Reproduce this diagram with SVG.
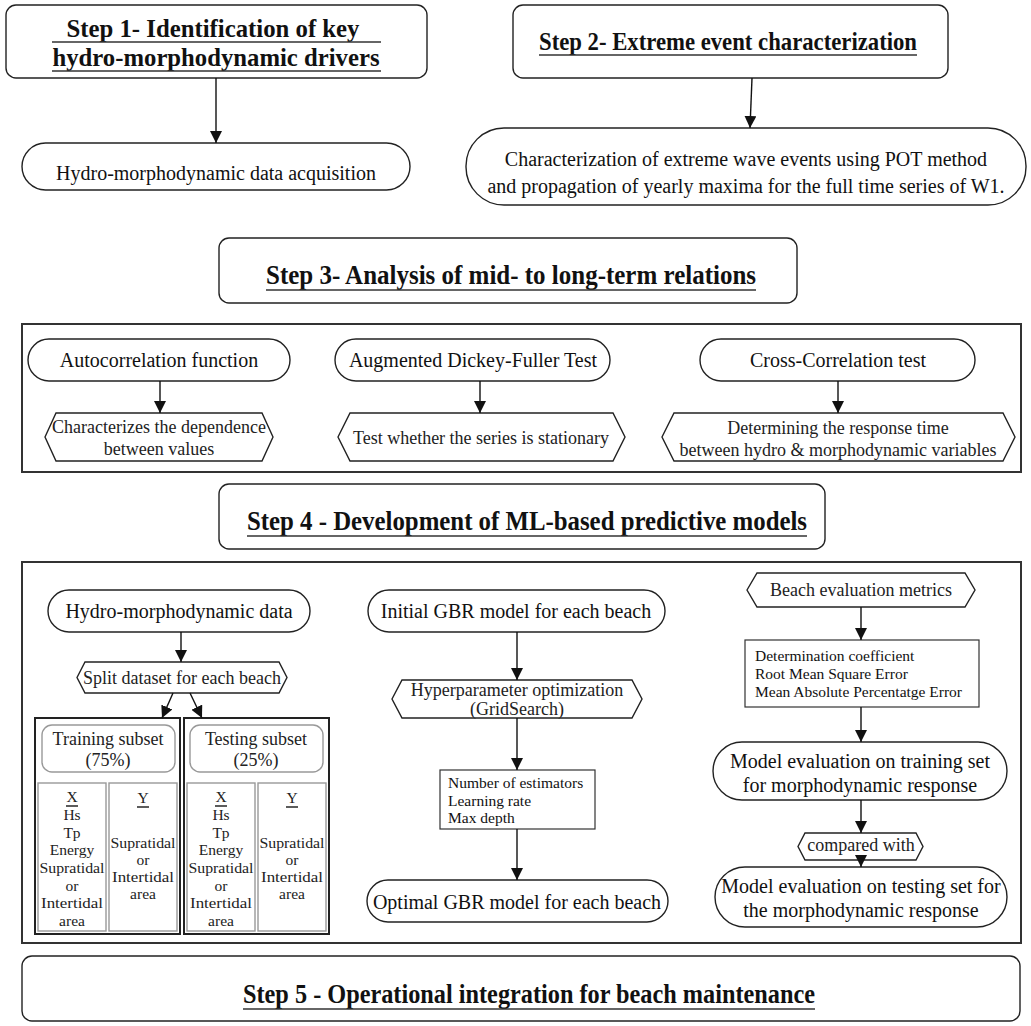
<svg xmlns="http://www.w3.org/2000/svg" width="1031" height="1026" viewBox="0 0 1031 1026" font-family="'Liberation Serif', Tinos, 'Times New Roman', 'DejaVu Serif', serif">
<defs>
<marker id="ah" markerUnits="userSpaceOnUse" markerWidth="12" markerHeight="12" viewBox="0 0 12 12" refX="12" refY="6" orient="auto">
<path d="M0,0 L12,6 L0,12 z" fill="#111"/>
</marker>
<style>
text{font-family:'Liberation Serif',Tinos,'Times New Roman','DejaVu Serif',serif}
.box{fill:#fff;stroke:#222;stroke-width:1.4}
.cont{fill:none;stroke:#333;stroke-width:2}
.thin{fill:#fff;stroke:#333;stroke-width:1.2}
.gray{fill:#fff;stroke:#999;stroke-width:1.4}
.head{font-weight:bold;font-size:26px;fill:#111;text-anchor:middle}
.head2{font-weight:bold;font-size:28px;fill:#111;text-anchor:middle}
.t{font-size:20px;fill:#111;text-anchor:middle}
.s{font-size:18px;fill:#222;text-anchor:middle}
.col{font-size:15.5px;fill:#222;text-anchor:middle}
.sm{font-size:15.5px;fill:#111}
.ul{stroke:#333;stroke-width:1.6}
.con{stroke:#111;stroke-width:1.4;fill:none;marker-end:url(#ah)}
</style>
</defs>
<rect width="1031" height="1026" fill="#fff"/>

<rect class="cont" x="22" y="324" width="999" height="148"/>
<rect class="cont" x="22" y="562" width="999" height="381"/>

<g id="step1">
<rect class="box" x="6" y="5" width="421" height="73" rx="10"/>
<text class="head" x="213" y="37" textLength="293" lengthAdjust="spacingAndGlyphs">Step 1- Identification of key</text>
<line class="ul" x1="52" y1="42" x2="381" y2="42"/>
<text class="head" x="216" y="66" textLength="327" lengthAdjust="spacingAndGlyphs">hydro-morphodynamic drivers</text>
<line class="ul" x1="52" y1="71" x2="381" y2="71"/>
</g>
<g id="acq">
<rect class="box" x="22" y="143" width="388" height="47" rx="23.5"/>
<text class="t" x="216" y="180">Hydro-morphodynamic data acquisition</text>
</g>
<g id="step2">
<rect class="box" x="513" y="5" width="435" height="73" rx="10"/>
<text class="head" x="728" y="50" textLength="378" lengthAdjust="spacingAndGlyphs">Step 2- Extreme event characterization</text>
<line class="ul" x1="539" y1="55" x2="917" y2="55"/>
</g>
<g id="extreme">
<rect class="box" x="466" y="128" width="560" height="77" rx="38"/>
<text class="t" x="746" y="166">Characterization of extreme wave events using POT method</text>
<text class="t" x="746" y="193">and propagation of yearly maxima for the full time series of W1.</text>
</g>
<g id="step3">
<rect class="box" x="219" y="238" width="578" height="65" rx="10"/>
<text class="head2" x="511" y="284" textLength="490" lengthAdjust="spacingAndGlyphs">Step 3- Analysis of mid- to long-term relations</text>
<line class="ul" x1="266" y1="290" x2="756" y2="290"/>
</g>
<g id="acf">
<rect class="box" x="28" y="339" width="262" height="42" rx="21"/>
<text class="t" x="159" y="367">Autocorrelation function</text>
</g>
<g id="acf-desc">
<polygon class="box" points="45,437 56,413 262,413 273,437 262,461 56,461"/>
<text class="s" x="159" y="433">Characterizes the dependence</text>
<text class="s" x="159" y="455">between values</text>
</g>
<g id="adf">
<rect class="box" x="335" y="339" width="275" height="42" rx="21"/>
<text class="t" x="473" y="367">Augmented Dickey-Fuller Test</text>
</g>
<g id="adf-desc">
<polygon class="box" points="338,437 350,413 613,413 625,437 613,461 350,461"/>
<text class="s" x="481" y="444">Test whether the series is stationary</text>
</g>
<g id="ccf">
<rect class="box" x="700" y="339" width="275" height="42" rx="21"/>
<text class="t" x="838" y="367">Cross-Correlation test</text>
</g>
<g id="ccf-desc">
<polygon class="box" points="662,437 674,413 1003,413 1015,437 1003,461 674,461"/>
<text class="s" x="838" y="434">Determining the response time</text>
<text class="s" x="838" y="456">between hydro &amp; morphodynamic variables</text>
</g>
<g id="step4">
<rect class="box" x="219" y="484" width="606" height="65" rx="10"/>
<text class="head2" x="527" y="530" textLength="560" lengthAdjust="spacingAndGlyphs">Step 4 - Development of ML-based predictive models</text>
<line class="ul" x1="247" y1="536" x2="807" y2="536"/>
</g>
<g id="hmdata">
<rect class="box" x="48" y="590" width="262" height="42" rx="21"/>
<text class="t" x="179" y="618">Hydro-morphodynamic data</text>
</g>
<g id="split">
<polygon class="box" points="77,677.5 85,662 279,662 287,677.5 279,693 85,693"/>
<text class="s" x="182" y="684" font-size="19">Split dataset for each beach</text>
</g>
<g id="training">
<rect fill="#fff" stroke="#222" stroke-width="2" x="35" y="718" width="145" height="216"/>
<rect class="gray" x="42" y="725" width="133" height="47" rx="10"/>
<text class="s" x="108" y="745" font-size="17">Training subset</text>
<text class="s" x="108" y="766" font-size="17">(75%)</text>
<rect class="gray" x="38" y="783" width="68" height="148"/>
<rect class="gray" x="109" y="783" width="68" height="148"/>
<g class="col">
<text x="72" y="802">X</text>
<text x="72" y="820">Hs</text>
<text x="72" y="838">Tp</text>
<text x="72" y="855">Energy</text>
<text x="72" y="873" textLength="65" lengthAdjust="spacingAndGlyphs">Supratidal</text>
<text x="72" y="891">or</text>
<text x="72" y="908" textLength="62" lengthAdjust="spacingAndGlyphs">Intertidal</text>
<text x="72" y="926">area</text>
<text x="143" y="803">Y</text>
<text x="143" y="848" textLength="65" lengthAdjust="spacingAndGlyphs">Supratidal</text>
<text x="143" y="865">or</text>
<text x="143" y="882" textLength="62" lengthAdjust="spacingAndGlyphs">Intertidal</text>
<text x="143" y="899">area</text>
</g>
<line class="ul" x1="66" y1="806" x2="78" y2="806"/>
<line class="ul" x1="137" y1="807" x2="149" y2="807"/>
</g>
<g id="testing">
<rect fill="#fff" stroke="#222" stroke-width="2" x="184" y="718" width="145" height="216"/>
<rect class="gray" x="190" y="725" width="133" height="47" rx="10"/>
<text class="s" x="256" y="745" font-size="17">Testing subset</text>
<text class="s" x="256" y="766" font-size="17">(25%)</text>
<rect class="gray" x="187" y="783" width="68" height="148"/>
<rect class="gray" x="258" y="783" width="68" height="148"/>
<g class="col">
<text x="221" y="802">X</text>
<text x="221" y="820">Hs</text>
<text x="221" y="838">Tp</text>
<text x="221" y="855">Energy</text>
<text x="221" y="873" textLength="65" lengthAdjust="spacingAndGlyphs">Supratidal</text>
<text x="221" y="891">or</text>
<text x="221" y="908" textLength="62" lengthAdjust="spacingAndGlyphs">Intertidal</text>
<text x="221" y="926">area</text>
<text x="292" y="803">Y</text>
<text x="292" y="848" textLength="65" lengthAdjust="spacingAndGlyphs">Supratidal</text>
<text x="292" y="865">or</text>
<text x="292" y="882" textLength="62" lengthAdjust="spacingAndGlyphs">Intertidal</text>
<text x="292" y="899">area</text>
</g>
<line class="ul" x1="215" y1="806" x2="227" y2="806"/>
<line class="ul" x1="286" y1="807" x2="298" y2="807"/>
</g>
<g id="initgbr">
<rect class="box" x="368" y="590" width="297" height="42" rx="21"/>
<text class="t" x="516" y="618">Initial GBR model for each beach</text>
</g>
<g id="hyper">
<polygon class="box" points="392,699 402,680 632,680 642,699 632,718 402,718"/>
<text class="s" x="517" y="696" font-size="19">Hyperparameter optimization</text>
<text class="s" x="517" y="715" font-size="19">(GridSearch)</text>
</g>
<g id="params">
<rect class="thin" x="440" y="770" width="155" height="59"/>
<text class="sm" x="448" y="788">Number of estimators</text>
<text class="sm" x="448" y="806">Learning rate</text>
<text class="sm" x="448" y="823">Max depth</text>
</g>
<g id="optgbr">
<rect class="box" x="367" y="880" width="301" height="42" rx="21"/>
<text class="t" x="517" y="909">Optimal GBR model for each beach</text>
</g>
<g id="metrics-head">
<polygon class="box" points="747,590 757,573 965,573 975,590 965,607 757,607"/>
<text class="s" x="861" y="596" font-size="17">Beach evaluation metrics</text>
</g>
<g id="metrics">
<rect class="thin" x="745" y="640" width="234" height="67"/>
<text class="sm" x="755" y="661" font-size="16">Determination coefficient</text>
<text class="sm" x="755" y="679" font-size="16">Root Mean Square Error</text>
<text class="sm" x="755" y="697" font-size="16">Mean Absolute Percentatge Error</text>
</g>
<g id="evaltrain">
<rect class="box" x="713" y="742" width="294" height="58" rx="29"/>
<text class="t" x="860" y="768" font-size="21">Model evaluation on training set</text>
<text class="t" x="860" y="792" font-size="21">for morphodynamic response</text>
</g>
<g id="compared">
<polygon class="box" points="798,846.5 805,833 916,833 923,846.5 916,860 805,860"/>
<text class="s" x="861" y="851" font-size="14">compared with</text>
</g>
<g id="evaltest">
<rect class="box" x="715" y="867" width="292" height="60" rx="30"/>
<text class="t" x="861" y="893" font-size="21">Model evaluation on testing set for</text>
<text class="t" x="861" y="917" font-size="21">the morphodynamic response</text>
</g>
<g id="step5">
<rect class="box" x="22" y="956" width="998" height="65" rx="10"/>
<text class="head2" x="529" y="1003" textLength="572" lengthAdjust="spacingAndGlyphs">Step 5 - Operational integration for beach maintenance</text>
<line class="ul" x1="243" y1="1009" x2="815" y2="1009"/>
</g>

<g id="connectors">
<line class="con" x1="216" y1="78" x2="216" y2="143"/>
<line class="con" x1="752" y1="78" x2="750" y2="128"/>
<line class="con" x1="160" y1="381" x2="160" y2="413"/>
<line class="con" x1="480" y1="381" x2="480" y2="413"/>
<line class="con" x1="838" y1="381" x2="838" y2="413"/>
<line class="con" x1="181" y1="632" x2="181" y2="662"/>
<line class="con" x1="173" y1="693" x2="162" y2="718"/>
<line class="con" x1="190" y1="693" x2="202" y2="718"/>
<line class="con" x1="517" y1="632" x2="517" y2="680"/>
<line class="con" x1="517" y1="718" x2="517" y2="770"/>
<line class="con" x1="517" y1="829" x2="517" y2="880"/>
<line class="con" x1="861" y1="607" x2="861" y2="640"/>
<line class="con" x1="861" y1="707" x2="861" y2="742"/>
<line class="con" x1="861" y1="800" x2="861" y2="833"/>
<line class="con" x1="861" y1="860" x2="861" y2="867"/>
</g>
</svg>
